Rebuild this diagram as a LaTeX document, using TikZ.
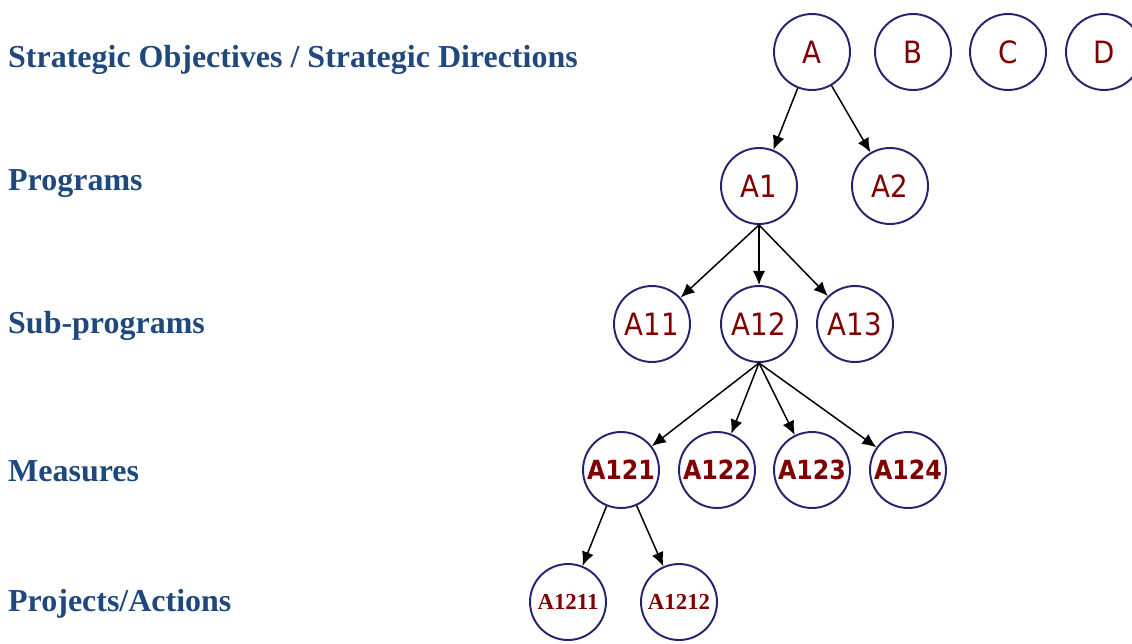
\documentclass[tikz,border=0pt]{standalone}
\usepackage{fontspec}
\setmainfont{Liberation Serif}
\newfontfamily\circfont{DejaVu Sans Condensed}
\usetikzlibrary{arrows.meta, positioning}
\definecolor{titleblue}{RGB}{31, 73, 125}
\definecolor{ringblue}{RGB}{35, 35, 110}
\definecolor{darkred}{RGB}{128, 0, 0}

\begin{document}
\begin{tikzpicture}[
                x=0.02cm, y=0.02cm,
                level/.style={anchor=west, text=titleblue,
                    font=\fontsize{18.2}{20}\selectfont\bfseries},
                ring/.style={draw=ringblue, line width=1.1pt, circle,
                    minimum size=1.52cm, inner sep=0pt, text=darkred,
                    font=\circfont\fontsize{17.5}{19}\selectfont},
                ringbold/.style={ring, font=\circfont\fontsize{15}{17}\selectfont\bfseries},
                ringserif/.style={ring, font=\fontsize{13}{15}\selectfont\bfseries},
                arrow/.style={-{Latex[length=8pt, width=7pt]}, line width=0.85pt}
            ]
                \useasboundingbox (0,0) rectangle (1132,-643);
                % level labels
                \node[level] (lso)  at (2,-60)  {Strategic Objectives / Strategic Directions};
                \node[level] (lpr)  at (2,-184) {Programs};
                \node[level] (lsub) at (2,-326) {Sub-programs};
                \node[level] (lmea) at (2,-471) {Measures};
                \node[level] (lpro) at (2,-604) {Projects/Actions};
                % objectives
                \node[ring] (A) at (812,-52)  {A};
                \node[ring] (B) at (913,-52)  {B};
                \node[ring] (C) at (1008,-52) {C};
                \node[ring] (D) at (1104,-52) {D};
                % programs
                \node[ring] (A1) at (759,-186) {A1};
                \node[ring] (A2) at (890,-186) {A2};
                % sub-programs
                \node[ring] (A11) at (652,-324) {A11};
                \node[ring] (A12) at (759,-324) {A12};
                \node[ring] (A13) at (855,-324) {A13};
                % measures
                \node[ringbold] (A121) at (621,-470) {A121};
                \node[ringbold] (A122) at (717,-470) {A122};
                \node[ringbold] (A123) at (812,-470) {A123};
                \node[ringbold] (A124) at (908,-470) {A124};
                % projects
                \node[ringserif] (A1211) at (568,-602) {A1211};
                \node[ringserif] (A1212) at (679,-602) {A1212};
                \draw[arrow] (A) -- (A1);
                \draw[arrow] (A) -- (A2);
                \draw[arrow] (A1.south) -- (A11);
                \draw[arrow] (A1.south) -- (A12);
                \draw[arrow] (A1.south) -- (A13);
                \draw[arrow] (A12.south) -- (A121);
                \draw[arrow] (A12.south) -- (A122);
                \draw[arrow] (A12.south) -- (A123);
                \draw[arrow] (A12.south) -- (A124);
                \draw[arrow] (A121) -- (A1211);
                \draw[arrow] (A121) -- (A1212);
            \end{tikzpicture}
\end{document}
